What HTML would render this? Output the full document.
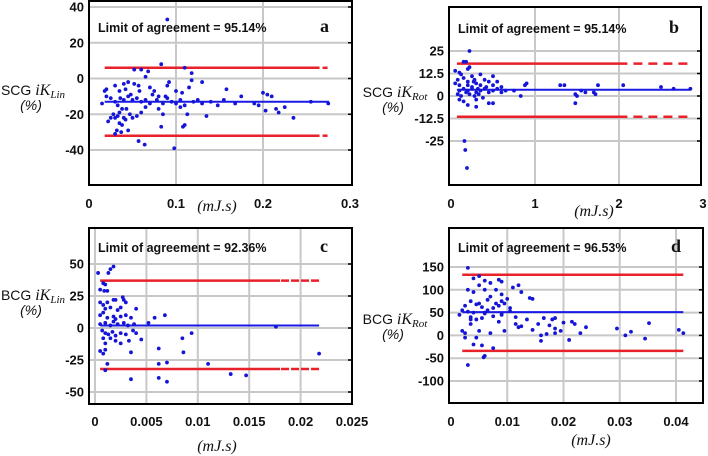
<!DOCTYPE html>
<html><head><meta charset="utf-8"><style>
html,body{margin:0;padding:0;background:#fff;}
svg{display:block;}
.tk{font-family:"Liberation Sans",sans-serif;font-weight:bold;font-size:13px;fill:#111;}
.loa{font-family:"Liberation Sans",sans-serif;font-weight:bold;font-size:12.5px;fill:#111;}
.pl{font-family:"Liberation Serif",serif;font-weight:bold;font-size:18px;fill:#111;}
.yl{font-family:"Liberation Sans",sans-serif;font-size:14px;fill:#111;}
.it{font-family:"Liberation Serif",serif;font-style:italic;}
.xl{font-family:"Liberation Serif",serif;font-style:italic;font-size:16px;fill:#111;}
</style></head><body>
<svg id="fig" width="708" height="456" viewBox="0 0 708 456"></svg>
<script>
// Panel a data
const aX=[0.09,0.083,0.118,0.068,0.052,0.06,0.065,0.11,0.118,0.13,0.092,0.09,0.04,0.045,0.052,0.057,0.03,0.02,0.018,0.035,0.042,0.07,0.075,0.08,0.1,0.107,0.115,0.158,0.175,0.2,0.205,0.21,0.015,0.02,0.025,0.03,0.033,0.036,0.04,0.045,0.05,0.055,0.06,0.065,0.07,0.078,0.085,0.09,0.095,0.1,0.105,0.11,0.12,0.125,0.13,0.14,0.148,0.155,0.168,0.19,0.195,0.203,0.215,0.218,0.225,0.235,0.255,0.275,0.022,0.025,0.028,0.03,0.033,0.035,0.038,0.04,0.042,0.047,0.05,0.055,0.06,0.065,0.08,0.085,0.105,0.113,0.135,0.035,0.038,0.032,0.03,0.037,0.045,0.083,0.108,0.11,0.057,0.064,0.098,0.043,0.048,0.058,0.073,0.088];
const aY=[33,8,3,4,5,5,1,6,-1,-2,-2,-4,-3,-2,-3,-4,-4,-6,-7,-7,-6,-5,-7,-10,-7,-8,-5,-6,-10,-8,-9,-10,-14,-10,-11,-13,-15,-11,-12,-10,-12,-11,-13,-12,-14,-12,-14,-11,-13,-14,-12,-15,-13,-12,-14,-13,-15,-12,-14,-14,-15,-18,-17,-19,-16,-22,-13,-14,-24,-22,-20,-22,-21,-19,-17,-22,-23,-20,-22,-21,-19,-16,-17,-20,-16,-20,-21,-25,-26,-29,-31,-30,-29,-27,-27,-26,-35,-37,-39,-17,-9,-7,-9,-10];
const aLines=[6,-13,-32];
const aXTicks=[0,0.1,0.2,0.3], aXTickLabels=["0","0.1","0.2","0.3"];
const aYTicks=[40,20,0,-20,-40], aYTickLabels=["40","20","0","-20","-40"];
// Panel b data
const bX=[0.22,0.18,0.15,0.2,0.22,0.05,0.1,0.12,0.25,0.35,0.5,0.08,0.15,0.2,0.28,0.4,0.45,0.55,0.9,0.88,0.05,0.1,0.2,0.3,0.35,0.5,0.6,1.3,1.35,1.75,2.05,2.5,0.1,0.15,0.2,0.25,0.3,0.35,0.4,0.45,0.5,0.55,0.65,0.75,1.55,1.7,2.65,2.85,0.08,0.12,0.18,0.22,0.28,0.33,0.38,0.6,0.83,1.48,1.5,1.6,1.72,0.1,0.15,0.2,0.3,0.45,0.5,1.48,0.3,0.16,0.17,0.19,0.25,0.32,0.27,0.42];
const bY=[25,19,19,15,16,14,13,12,11,12,11,9,10,8,9,9,8,8,7,6,7,6,6,7,6,6,5,6,6,6,6,5,3,4,3,4,2,3,4,2,3,4,3,3,3,2,4,4,1,0,2,1,0,1,-1,2,0,1,0,2,1,-2,-3,-5,-6,-4,-4,-4,-2,-25,-30,-40,5,4,8,5];
const bLines=[18,3.5,-11.5];
const bXTicks=[0,1,2,3], bXTickLabels=["0","1","2","3"];
const bYTicks=[25,12.5,0,-12.5,-25], bYTickLabels=["25","12.5","0","-12.5","-25"];
// Panel c data
const cX=[0.0003,0.0015,0.0018,0.0013,0.0008,0.001,0.0005,0.0009,0.0012,0.0005,0.0008,0.0012,0.0018,0.002,0.0027,0.0028,0.003,0.001,0.0015,0.0022,0.0025,0.004,0.0005,0.0008,0.0012,0.0018,0.002,0.0025,0.003,0.0035,0.0058,0.0068,0.0005,0.001,0.0015,0.0018,0.0022,0.0028,0.0032,0.0038,0.0052,0.0007,0.001,0.0013,0.0017,0.002,0.0025,0.003,0.0037,0.004,0.0008,0.001,0.0015,0.002,0.0025,0.0033,0.0045,0.0085,0.0094,0.0005,0.0008,0.001,0.0035,0.0062,0.0086,0.0176,0.0218,0.0012,0.001,0.0062,0.007,0.011,0.0035,0.0062,0.007,0.0132,0.0147];
const cY=[43,46,48,43,35,34,30,29,29,20,18,20,22,22,24,22,20,15,16,14,16,15,10,12,8,9,7,9,10,8,8,10,3,4,2,5,3,4,2,3,4,-2,-4,-5,-3,-6,-4,-5,-2,-4,-8,-12,-8,-10,-12,-10,-9,-8,-4,-18,-20,-17,-19,-16,-19,1,-20,-28,-33,-28,-27,-28,-40,-39,-42,-36,-37];
const cLines=[37,2,-32];
const cXTicks=[0,0.005,0.01,0.015,0.02,0.025], cXTickLabels=["0","0.005","0.01","0.015","0.02","0.025"];
const cYTicks=[50,25,0,-25,-50], cYTickLabels=["50","25","0","-25","-50"];
// Panel d data
const dX=[0.003,0.005,0.004,0.006,0.0085,0.009,0.007,0.012,0.011,0.005,0.003,0.004,0.006,0.008,0.0125,0.009,0.007,0.01,0.014,0.0145,0.0035,0.005,0.0065,0.008,0.009,0.0095,0.0025,0.0045,0.0055,0.0075,0.0085,0.0105,0.002,0.003,0.004,0.006,0.0065,0.009,0.0105,0.0015,0.0035,0.006,0.0075,0.009,0.0115,0.0135,0.0165,0.018,0.0185,0.0035,0.0045,0.0055,0.0085,0.0115,0.012,0.0145,0.0155,0.0175,0.0185,0.02,0.0215,0.022,0.024,0.0295,0.032,0.0352,0.0405,0.0413,0.002,0.0025,0.0035,0.0045,0.005,0.007,0.0095,0.0125,0.016,0.017,0.0185,0.021,0.023,0.031,0.0345,0.0025,0.004,0.0055,0.006,0.0058,0.003,0.0075,0.016,0.0195];
const dY=[148,130,125,120,122,118,115,110,105,110,100,95,100,100,95,90,85,80,82,80,75,70,78,70,75,70,65,68,62,60,65,60,55,52,50,50,55,48,53,45,40,48,42,45,40,35,38,35,38,35,35,38,30,25,18,12,25,22,15,28,30,25,18,15,8,27,12,5,10,5,25,-5,10,5,10,20,0,3,5,-10,5,0,-7,-5,-20,-22,-45,-48,-65,-28,-12,10];
const dLines=[133,51,-34];
const dXTicks=[0,0.01,0.02,0.03,0.04], dXTickLabels=["0","0.01","0.02","0.03","0.04"];
const dYTicks=[150,100,50,0,-50,-100], dYTickLabels=["150","100","50","0","-50","-100"];

const NS="http://www.w3.org/2000/svg";
const svg=document.getElementById('fig');
function mk(tag,attrs,parent,text){const e=document.createElementNS(NS,tag);for(const k in attrs)e.setAttribute(k,attrs[k]);if(text!==undefined)e.textContent=text;(parent||svg).appendChild(e);return e;}

function panel(P){
  const g=mk('g',{});
  
  
  const sx=v=>P.px0+(v-P.x0)/(P.x1-P.x0)*(P.px1-P.px0);
  const sy=v=>P.py0+(v-P.y0)/(P.y1-P.y0)*(P.py1-P.py0);
  P.xt.forEach((t,i)=>{const x=sx(t);
    if(x>P.L+2&&x<P.R-2){const l=mk('line',{x1:x,x2:x,y1:P.T,y2:P.B,stroke:'#c8c8c8','stroke-width':2},g);}
    const tx=mk('text',{x:x,y:P.xly,'text-anchor':'middle',class:'tk'},g,P.xtl[i]);});
  P.yt.forEach((t,i)=>{const y=sy(t);
    const l=mk('line',{x1:P.L,x2:P.R,y1:y,y2:y,stroke:'#c8c8c8','stroke-width':2},g);
    mk('line',{x1:P.R-4,x2:P.R,y1:y,y2:y,stroke:'#000','stroke-width':1.5},g);
    const tx=mk('text',{x:P.L-5,y:y+4.5,'text-anchor':'end',class:'tk'},g,P.ytl[i]);});
  const [up,mean,lo]=P.lines;
  [[up,'upper-limit-line','#e8212a'],[lo,'lower-limit-line','#e8212a']].forEach(([v,n,c])=>{
    const y=sy(v);
    const l=mk('line',{x1:sx(P.lx0),x2:sx(P.ls),y1:y,y2:y,stroke:c,'stroke-width':2.5},g);
    if(P.ls<P.lx1){const d=mk('line',{x1:sx(P.ls)+P.gap,x2:sx(P.lx1),y1:y,y2:y,stroke:c,'stroke-width':2.5,'stroke-dasharray':P.dash},g);}
  });
  const m=mk('line',{x1:sx(P.lx0),x2:sx(P.lx1),y1:sy(mean),y2:sy(mean),stroke:'#1a1ae6','stroke-width':2},g);
  
  P.xs.forEach((xv,i)=>{const c=mk('circle',{cx:sx(xv),cy:sy(P.ys[i]),r:1.9,fill:'#1515d8'},g);
    
    });
  const box=mk('rect',{x:P.L,y:P.T,width:P.R-P.L,height:P.B-P.T,fill:'none',stroke:'#000','stroke-width':2},g);
  
  const lt=mk('text',{x:P.L+9,y:P.loy,class:'loa'},g,'Limit of agreement = '+P.loa);
  
  const pl=mk('text',{x:P.R-32,y:P.loy,class:'pl'},g,P.id);
  
  const yl=mk('text',{x:P.ylx,y:P.yly,'text-anchor':'middle',class:'yl'},g);
  
  mk('tspan',{},yl,P.sig+' ');mk('tspan',{class:'it','font-size':'16'},yl,'iK');mk('tspan',{class:'it','font-size':'11',dy:'3'},yl,P.sub);
  const yp=mk('text',{x:P.ylx-2,y:P.yly+15,'text-anchor':'middle',class:'yl','font-style':'italic'},g,'(%)');
  
  const xl=mk('text',{x:P.xlx,y:P.xlly,'text-anchor':'middle',class:'xl'},g,'(mJ.s)');
  
}
panel({id:'a',xs:aX,ys:aY,lines:aLines,xt:aXTicks,xtl:aXTickLabels,yt:aYTicks,ytl:aYTickLabels,
  L:89,R:352,T:1,B:185,x0:0,x1:0.3,px0:89,px1:350,y0:40,y1:-40,py0:7,py1:150,
  lx0:0.018,ls:0.265,lx1:0.276,gap:3,dash:'5,4',loa:'95.14%',loy:32,ylx:33,yly:95,sig:'SCG',sub:'Lin',xly:208,xlx:217,xlly:211});
panel({id:'b',xs:bX,ys:bY,lines:bLines,xt:bXTicks,xtl:bXTickLabels,yt:bYTicks,ytl:bYTickLabels,
  L:449,R:701,T:7,B:185,x0:0,x1:3,px0:451,px1:703,y0:25,y1:-25,py0:51,py1:141,
  lx0:0.07,ls:2.1,lx1:2.85,gap:6,dash:'9,6',loa:'95.14%',loy:33,ylx:395,yly:97,sig:'SCG',sub:'Rot',xly:208,xlx:594,xlly:216});
panel({id:'c',xs:cX,ys:cY,lines:cLines,xt:cXTicks,xtl:cXTickLabels,yt:cYTicks,ytl:cYTickLabels,
  L:89,R:352,T:228,B:404,x0:0,x1:0.025,px0:95,px1:352,y0:50,y1:-50,py0:264,py1:392,
  lx0:0.0005,ls:0.018,lx1:0.0218,gap:1,dash:'8,2',loa:'92.36%',loy:252,ylx:33,yly:300,sig:'BCG',sub:'Lin',xly:426,xlx:217,xlly:451});
panel({id:'d',xs:dX,ys:dY,lines:dLines,xt:dXTicks,xtl:dXTickLabels,yt:dYTicks,ytl:dYTickLabels,
  L:449,R:703,T:228,B:403,x0:0,x1:0.04,px0:451,px1:676,y0:150,y1:-100,py0:267,py1:381,
  lx0:0.002,ls:0.0413,lx1:0.0413,gap:0,dash:'5,4',loa:'96.53%',loy:252,ylx:395,yly:324,sig:'BCG',sub:'Rot',xly:426,xlx:591,xlly:445});
</script>
</body></html>
